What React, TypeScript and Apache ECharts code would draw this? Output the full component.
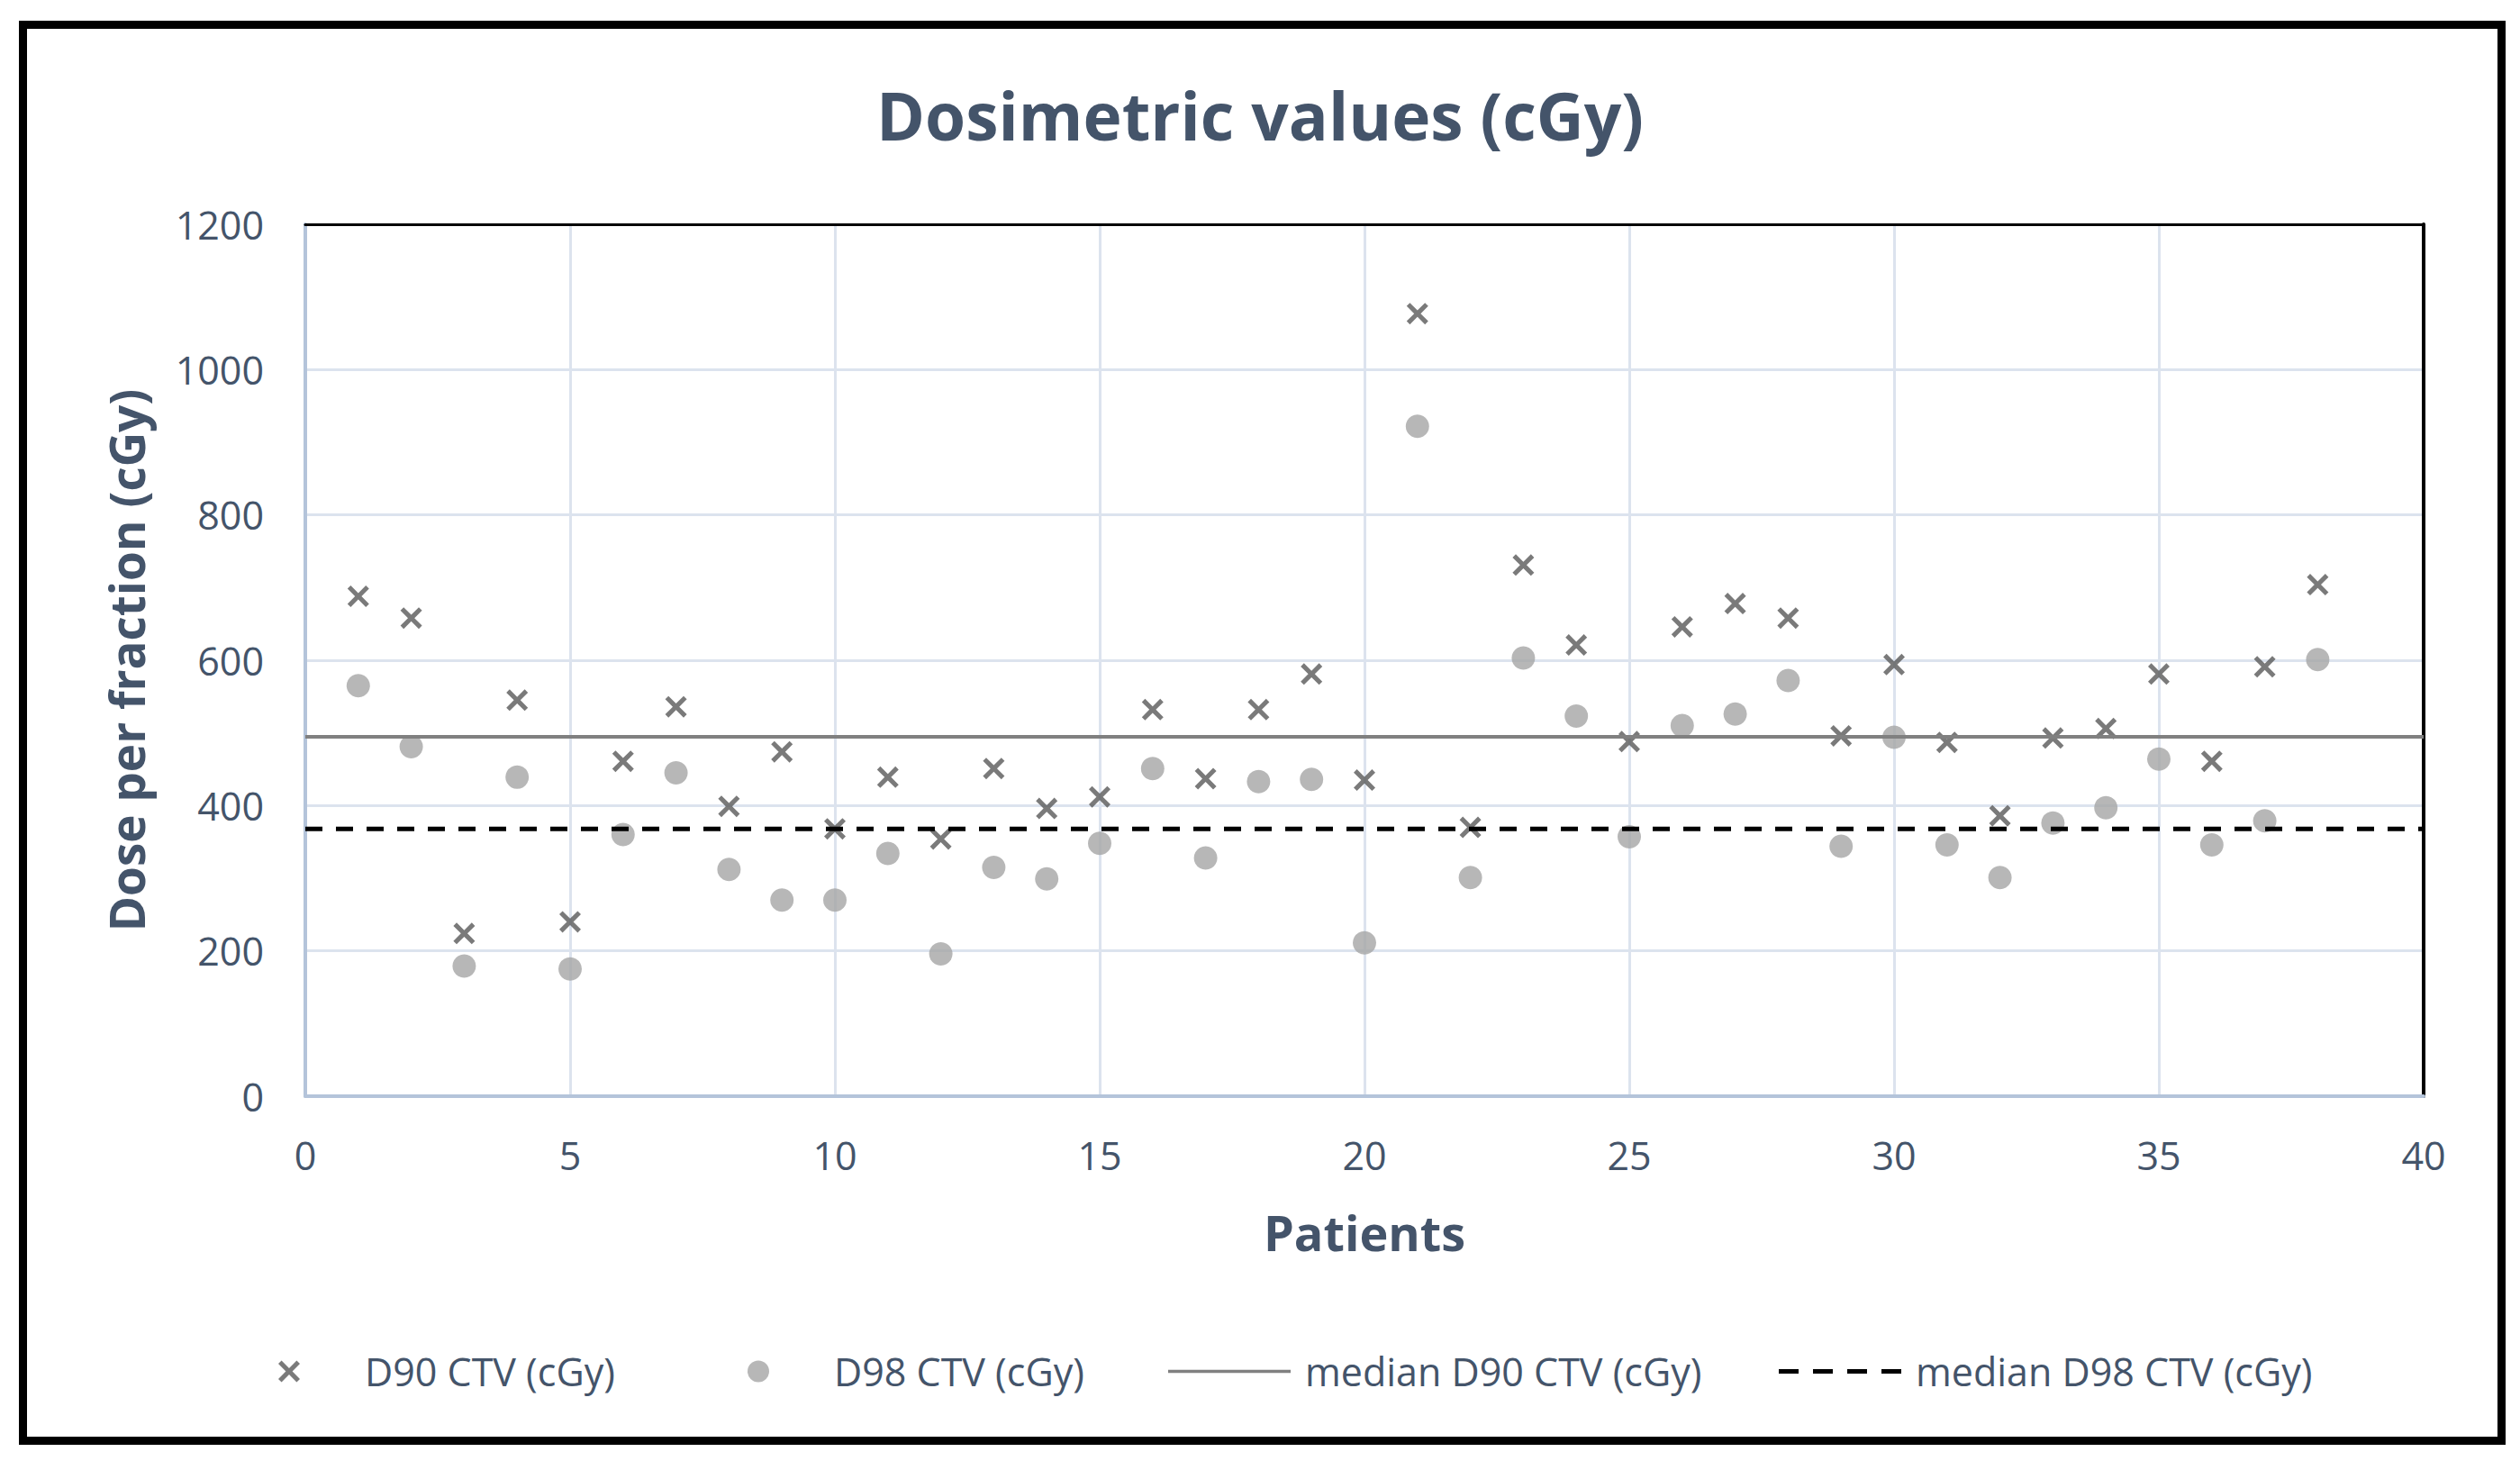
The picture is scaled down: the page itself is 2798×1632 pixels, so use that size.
import React, { useEffect, useRef } from "react";
import * as echarts from "echarts";

const patients = [1, 2, 3, 4, 5, 6, 7, 8, 9, 10, 11, 12, 13, 14, 15, 16, 17, 18, 19, 20, 21, 22, 23, 24, 25, 26, 27, 28, 29, 30, 31, 32, 33, 34, 35, 36, 37, 38];
const d90 = [688, 658, 224, 545, 240, 461, 536, 399, 474, 368, 439, 354, 451, 396, 412, 532, 437, 532, 581, 435, 1077, 370, 731, 621, 488, 646, 678, 658, 496, 594, 487, 386, 493, 506, 581, 461, 591, 704];
const d98 = [565, 481, 179, 439, 175, 360, 445, 312, 270, 270, 334, 196, 315, 299, 348, 451, 328, 433, 436, 211, 922, 301, 603, 523, 357, 510, 526, 572, 344, 494, 346, 301, 376, 397, 464, 346, 379, 601];
const medianD90 = 494.5;
const medianD98 = 368;
const xRange = [0, 40];
const seriesNames = ["D90 CTV (cGy)", "D98 CTV (cGy)", "median D90 CTV (cGy)", "median D98 CTV (cGy)"];

const TEXT = "#44546A";
const FONT = "'Open Sans', 'Noto Sans', sans-serif";
const CROSS = "path://M0,1.5L1.5,0L5,3.5L8.5,0L10,1.5L6.5,5L10,8.5L8.5,10L5,6.5L1.5,10L0,8.5L3.5,5Z";

// legend icons drawn in a 136 x 24 box (degenerate corner points fix the bounding box)
const BOX = "M0,0L0,0M136,24L136,24";
const legendIcons = [
  "path://" + BOX + "M56,3.6L59.6,0L68,8.4L76.4,0L80,3.6L71.6,12L80,20.4L76.4,24L68,15.6L59.6,24L56,20.4L64.4,12Z",
  "path://" + BOX + "M80,12A12,12 0 1 1 56,12A12,12 0 1 1 80,12Z",
  "path://" + BOX + "M0,10.3L136,10.3L136,13.7L0,13.7Z",
  "path://" + BOX + "M0,9.5L22,9.5L22,14.5L0,14.5ZM38,9.5L60,9.5L60,14.5L38,14.5ZM76,9.5L98,9.5L98,14.5L76,14.5ZM114,9.5L136,9.5L136,14.5L114,14.5Z",
];
const legendLefts = [248, 769, 1292, 1970];

export default function App() {
  const ref = useRef<HTMLDivElement>(null);
  useEffect(() => {
    if (!ref.current) return;
    const chart = echarts.init(ref.current, undefined, { renderer: "svg" });
    const option = {
      animation: false,
      backgroundColor: "#ffffff",
      textStyle: { fontFamily: FONT },
      title: {
        text: "Dosimetric values (cGy)",
        left: "center",
        top: 86,
        textStyle: { fontFamily: FONT, fontSize: 73, fontWeight: "bold", color: TEXT },
      },
      legend: seriesNames.map((name, i) => ({
        left: legendLefts[i],
        top: 1496,
        itemWidth: 136,
        itemHeight: 24,
        symbolKeepAspect: true,
        textStyle: { fontFamily: FONT, fontSize: 43, color: TEXT, padding: [0, 0, 0, 11] },
        data: [{ name, icon: legendIcons[i] }],
      })),
      grid: { left: 339, right: 107, top: 249, bottom: 415, containLabel: false },
      xAxis: [
        {
          type: "value",
          min: xRange[0],
          max: xRange[1],
          interval: 5,
          name: "Patients",
          nameLocation: "middle",
          nameGap: 124,
          nameTextStyle: { fontFamily: FONT, fontSize: 54, fontWeight: "bold", color: TEXT },
          axisLine: { show: true, lineStyle: { color: "#B4C4DA", width: 4 } },
          axisTick: { show: false },
          axisLabel: { fontFamily: FONT, fontSize: 43, color: TEXT, margin: 44 },
          splitLine: { show: true, lineStyle: { color: "#DCE3EE", width: 3 } },
        },
        {
          type: "value",
          position: "top",
          min: xRange[0],
          max: xRange[1],
          axisLine: { show: true, onZero: false, lineStyle: { color: "#000000", width: 3 } },
          axisTick: { show: false },
          axisLabel: { show: false },
          splitLine: { show: false },
        },
      ],
      yAxis: [
        {
          type: "value",
          min: 0,
          max: 1200,
          interval: 200,
          name: "Dose per fraction (cGy)",
          nameLocation: "middle",
          nameGap: 172,
          nameTextStyle: { fontFamily: FONT, fontSize: 53, fontWeight: "bold", color: TEXT },
          axisLine: { show: true, lineStyle: { color: "#B4C4DA", width: 4 } },
          axisTick: { show: false },
          axisLabel: { fontFamily: FONT, fontSize: 43, color: TEXT, margin: 46, formatter: (v: number) => String(v) },
          splitLine: { show: true, lineStyle: { color: "#DCE3EE", width: 3 } },
        },
        {
          type: "value",
          position: "right",
          min: 0,
          max: 1200,
          axisLine: { show: true, onZero: false, lineStyle: { color: "#000000", width: 4 } },
          axisTick: { show: false },
          axisLabel: { show: false },
          splitLine: { show: false },
        },
      ],
      series: [
        {
          name: seriesNames[0],
          type: "scatter",
          symbol: CROSS,
          symbolSize: 24,
          itemStyle: { color: "#595959" },
          data: patients.map((p, i) => [p, d90[i]]),
        },
        {
          name: seriesNames[1],
          type: "scatter",
          symbol: "circle",
          symbolSize: 26,
          itemStyle: { color: "#A5A5A5" },
          data: patients.map((p, i) => [p, d98[i]]),
        },
        {
          name: seriesNames[2],
          type: "line",
          symbol: "none",
          lineStyle: { color: "#808080", width: 4, type: "solid" },
          itemStyle: { color: "#808080" },
          data: [[xRange[0], medianD90], [xRange[1], medianD90]],
        },
        {
          name: seriesNames[3],
          type: "line",
          symbol: "none",
          lineStyle: { color: "#000000", width: 5, type: [19, 15] },
          itemStyle: { color: "#000000" },
          data: [[xRange[0], medianD98], [xRange[1], medianD98]],
        },
      ],
      graphic: [
        {
          type: "rect",
          silent: true,
          shape: { x: 25.5, y: 27.5, width: 2752, height: 1572 },
          style: { fill: "none", stroke: "#000000", lineWidth: 9 },
        },
      ],
    };
    chart.setOption(option as any);
    return () => chart.dispose();
  }, []);
  return (
    <div
      ref={ref}
      style={{ position: "absolute", left: 0, top: 0, width: 2798, height: 1632, background: "#ffffff" }}
    />
  );
}
